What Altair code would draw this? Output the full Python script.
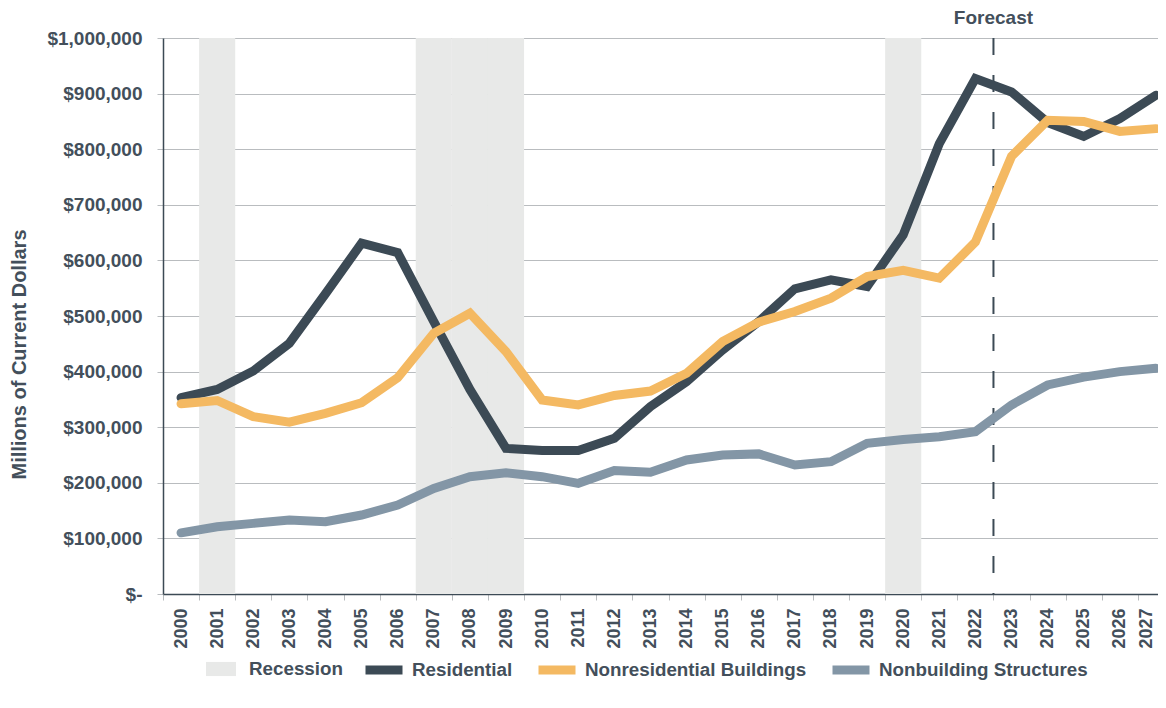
import altair as alt
import pandas as pd

years = [str(y) for y in range(2000, 2028)]
residential = [353000, 368000, 401000, 451000, 540000, 631000, 614000, 490000, 368000, 262000,
               258000, 258000, 280000, 337000, 382000, 439000, 490000, 549000, 565000, 553000,
               646000, 810000, 927000, 903000, 848000, 823000, 855000, 897000]
nonresidential = [342000, 348000, 319000, 309000, 325000, 344000, 389000, 469000, 505000, 436000,
                  349000, 340000, 357000, 365000, 397000, 454000, 489000, 508000, 532000, 571000,
                  582000, 568000, 633000, 787000, 852000, 850000, 832000, 837000]
nonbuilding = [110000, 121000, 127000, 133000, 130000, 142000, 160000, 190000, 211000, 218000,
               211000, 199000, 222000, 219000, 241000, 250000, 252000, 232000, 238000, 271000,
               278000, 283000, 292000, 340000, 376000, 390000, 400000, 406000]
series_names = ["Residential", "Nonresidential Buildings", "Nonbuilding Structures"]
series_colors = ["#3c4a55", "#f4b962", "#8396a6"]
recession_years = ["2001", "2007", "2008", "2009", "2020"]
forecast_year = "2023"
y_ticks = list(range(0, 1000001, 100000))
x_ticks = list(range(0, 28))

TEXT = "#434f5b"
FONT = "Liberation Sans"
W = 995                # visible plot width; the last year's slot runs a little past the edge
SLOT = 1011 / 28.0     # width of one year slot in the original
N_VISIBLE = W / SLOT

rows = []
for name, vals in zip(series_names, [residential, nonresidential, nonbuilding]):
    for yr, v in zip(years, vals):
        rows.append({"year": yr, "value": v, "series": name})
lines_df = pd.DataFrame(rows)
rec_df = pd.DataFrame({"year": recession_years, "top": 1000000, "bottom": 0, "kind": "Recession"})
fc_df = pd.DataFrame({"year": [forecast_year], "top": [1000000], "bottom": [0], "label": ["Forecast"]})

# year slots: slot i spans [i, i+1]; points sit at slot centres
xscale = alt.Scale(domain=[0, N_VISIBLE], nice=False, zero=False)
label_offset = {"condition": {"test": "datum.value == 27", "value": SLOT / 2 - 9},
                "value": SLOT / 2}
xaxis = alt.Axis(title=None, values=x_ticks,
                 labelExpr="'' + (2000 + datum.value)",
                 labelOffset=label_offset,
                 labelAngle=-90, labelAlign="right", labelBaseline="middle",
                 labelFontSize=18, labelFontWeight="bold", labelColor=TEXT, labelFont=FONT,
                 labelPadding=8, tickColor="#b9bcbf", tickSize=6, labelFlush=False,
                 labelOverlap=False, domainColor="#3c4a55", domainWidth=1.5, grid=False)
yscale = alt.Scale(domain=[0, 1000000], nice=False)
yaxis = alt.Axis(title="Millions of Current Dollars", values=y_ticks,
                 labelExpr="datum.value == 0 ? '$-' : '$' + format(datum.value, ',')",
                 labelFontSize=19, labelFontWeight="bold", labelColor=TEXT, labelFont=FONT,
                 labelPadding=15, tickColor="#b9bcbf", tickSize=6,
                 domainColor="#3c4a55", domainWidth=1.5,
                 gridColor="#b9bcbf", gridWidth=1.2,
                 titleFontSize=20, titleFontWeight="bold", titleColor=TEXT, titleFont=FONT,
                 titleX=-144, titleY=316, titleAngle=-90, titleBaseline="middle", titleAlign="center")

rec = alt.Chart(rec_df).transform_calculate(
    x0="toNumber(datum.year) - 2000", x1="toNumber(datum.year) - 1999"
).mark_rect(stroke=None).encode(
    x=alt.X("x0:Q", scale=xscale, axis=xaxis),
    x2="x1:Q",
    y=alt.Y("top:Q", scale=yscale, axis=yaxis),
    y2="bottom:Q",
    fill=alt.Fill("kind:N", scale=alt.Scale(domain=["Recession"], range=["#e8e9e8"]),
                  legend=alt.Legend(title=None, orient="none", legendX=43, legendY=616,
                                    symbolType="M-1,-0.47H1V0.47H-1Z", symbolSize=900,
                                    symbolStrokeWidth=0, labelFontSize=18.8, labelFontWeight="bold",
                                    labelColor=TEXT, labelFont=FONT, labelOffset=13, padding=0,
                                    labelLimit=0)),
)

rule = alt.Chart(fc_df).transform_calculate(
    xb="toNumber(datum.year) - 2000"
).mark_rule(color="#3c4a55", strokeWidth=2, strokeDash=[17, 20]).encode(
    x=alt.X("xb:Q", scale=xscale, axis=xaxis),
    y=alt.Y("top:Q", scale=yscale, axis=yaxis),
    y2="bottom:Q",
)

fc_text = alt.Chart(fc_df).transform_calculate(
    xb="toNumber(datum.year) - 2000"
).mark_text(fontSize=19, fontWeight="bold", color=TEXT, font=FONT,
            dy=-14, baseline="alphabetic", align="center").encode(
    x=alt.X("xb:Q", scale=xscale, axis=xaxis),
    y=alt.Y("top:Q", scale=yscale, axis=yaxis),
    text="label:N",
)

lines = alt.Chart(lines_df).transform_calculate(
    xc="toNumber(datum.year) - 2000 + 0.5"
).mark_line(strokeWidth=9, strokeCap="round", clip=False).encode(
    x=alt.X("xc:Q", scale=xscale, axis=xaxis),
    y=alt.Y("value:Q", scale=yscale, axis=yaxis),
    color=alt.Color("series:N", sort=series_names,
                    scale=alt.Scale(domain=series_names, range=series_colors),
                    legend=alt.Legend(title=None, orient="none", legendX=198, legendY=609,
                                      direction="horizontal", columns=3, symbolType="stroke",
                                      symbolSize=1369, symbolStrokeWidth=9, columnPadding=7,
                                      labelFontSize=18.8, labelFontWeight="bold", labelColor=TEXT,
                                      labelFont=FONT, labelOffset=5, padding=0, labelLimit=0)),
    detail="series:N",
    order="xc:Q",
)

chart = alt.layer(rec, rule, lines, fc_text).resolve_scale(color="independent").properties(
    width=W, height=556,
    autosize=alt.AutoSizeParams(type="none"),
    padding={"left": 155, "top": 30, "right": 0, "bottom": 100},
).configure_view(stroke=None).configure(background="white")

chart.save("out.html", embed_options={"renderer": "svg", "actions": False})
